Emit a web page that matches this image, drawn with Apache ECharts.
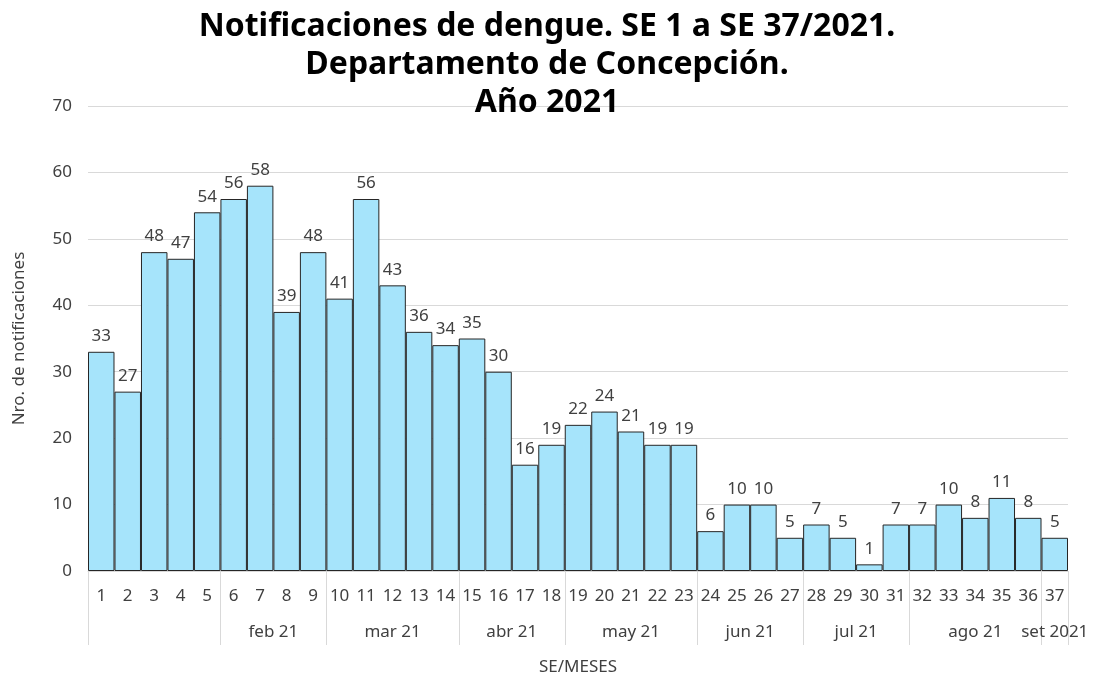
<!DOCTYPE html>
<html>
<head>
<meta charset="utf-8">
<script src="https://cdn.jsdelivr.net/npm/echarts@6/dist/echarts.min.js"></script>
<style>
  html, body { margin: 0; padding: 0; background: #fff; }
  #chart { width: 1094px; height: 681px; }
</style>
</head>
<body>
<div id="chart"></div>
<script>
// semanas epidemiologicas
var weeks = [];
for (var w = 1; w <= 37; w++) weeks.push(String(w));

var cases = [33, 27, 48, 47, 54, 56, 58, 39, 48, 41, 56, 43, 36, 34, 35, 30, 16, 19,
  22, 24, 21, 19, 19, 6, 10, 10, 5, 7, 5, 1, 7, 7, 10, 8, 11, 8, 5];

// meses: etiqueta, semana inicial, semana final
var monthNames = ["", "feb 21", "mar 21", "abr 21", "may 21", "jun 21", "jul 21", "ago 21", "set 2021"];
var monthFrom = [1, 6, 10, 15, 19, 24, 28, 32, 37];
var monthTo = [5, 9, 14, 18, 23, 27, 31, 36, 37];

var yTicks = [0, 10, 20, 30, 40, 50, 60, 70];

// eje de meses en medias semanas (75 puntos, boundaryGap false)
var halfSlots = [];
for (var k = 0; k <= weeks.length * 2; k++) halfSlots.push("");
var sepIdx = {};
for (var m = 0; m < monthNames.length; m++) {
  halfSlots[monthFrom[m] - 1 + monthTo[m]] = monthNames[m];
  sepIdx[2 * (monthFrom[m] - 1)] = true;
}
sepIdx[weeks.length * 2] = true;

var font = "Noto Sans";
var chart = echarts.init(document.getElementById("chart"));

var option = {
  animation: false,
  textStyle: { fontFamily: font },
  title: {
    text: "Notificaciones de dengue. SE 1 a SE 37/2021.\nDepartamento de Concepción.\nAño 2021",
    left: "center",
    top: 3,
    textStyle: {
      fontFamily: font,
      fontSize: 32,
      fontWeight: "bold",
      color: "#000",
      lineHeight: 38
    }
  },
  grid: { left: 88, right: 26, top: 106, bottom: 110 },
  xAxis: [
    {
      type: "category",
      data: weeks,
      position: "bottom",
      axisLine: { show: true, lineStyle: { color: "#d9d9d9" } },
      axisTick: { show: false },
      axisLabel: { color: "#404040", fontSize: 17, margin: 17, interval: 0 },
      name: "SE/MESES",
      nameLocation: "middle",
      nameGap: 88,
      nameTextStyle: { color: "#404040", fontSize: 17 }
    },
    {
      type: "category",
      data: halfSlots,
      boundaryGap: false,
      position: "bottom",
      axisLine: { show: false },
      axisTick: {
        show: true,
        length: 74,
        interval: function (i) { return !!sepIdx[i]; },
        lineStyle: { color: "#d9d9d9" }
      },
      axisLabel: { color: "#404040", fontSize: 17, margin: 53, interval: 0 },
      splitLine: { show: false }
    }
  ],
  yAxis: {
    type: "value",
    min: yTicks[0],
    max: yTicks[yTicks.length - 1],
    interval: 10,
    axisLine: { show: false },
    axisTick: { show: false },
    axisLabel: { color: "#404040", fontSize: 17, margin: 16 },
    splitLine: { lineStyle: { color: "#d9d9d9" } },
    name: "Nro. de notificaciones",
    nameLocation: "middle",
    nameGap: 60,
    nameTextStyle: { color: "#404040", fontSize: 17 }
  },
  series: [
    {
      type: "bar",
      data: cases,
      xAxisIndex: 0,
      barCategoryGap: "0%",
      itemStyle: { color: "#a6e4fb", borderColor: "#262626", borderWidth: 1 },
      label: { show: true, position: "top", color: "#404040", fontSize: 17, distance: 7 }
    }
  ]
};
chart.setOption(option);
</script>
</body>
</html>
